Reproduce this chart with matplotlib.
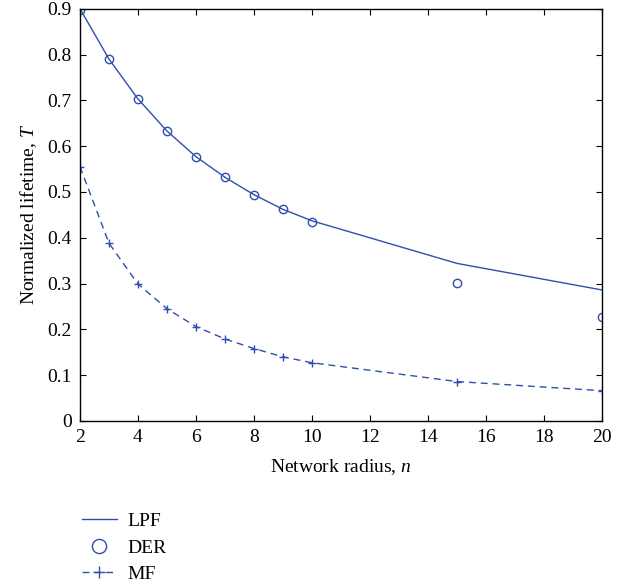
import numpy as np
import matplotlib.pyplot as plt

plt.rcParams['font.family'] = ['Liberation Serif', 'DejaVu Serif']
plt.rcParams['mathtext.fontset'] = 'custom'
plt.rcParams['mathtext.rm'] = 'Liberation Serif'
plt.rcParams['mathtext.it'] = 'Liberation Serif:italic'

radius = [2, 3, 4, 5, 6, 7, 8, 9, 10, 15, 20]
lpf = [0.900, 0.790, 0.703, 0.633, 0.577, 0.532, 0.494, 0.462, 0.437, 0.344, 0.286]
der = [0.898, 0.790, 0.703, 0.633, 0.577, 0.532, 0.494, 0.462, 0.435, 0.302, 0.226]
mf = [0.555, 0.388, 0.299, 0.245, 0.206, 0.179, 0.158, 0.140, 0.127, 0.086, 0.066]

col = '#2f4fae'

fig = plt.figure(figsize=(6.25, 5.83), dpi=100)
ax = fig.add_axes([0.128, 0.278, 0.835, 0.707])

ax.plot(radius, lpf, '-', color=col, lw=1.0, label='LPF')
ax.plot(radius, der, 'o', color=col, mfc='none', ms=6, mew=1.0, label='DER')
ax.plot(radius, mf, '--', color=col, lw=1.0, marker='+', ms=5.5, mew=1.0,
        dashes=(5, 3.5), label='MF')

ax.set_xlim(2, 20)
ax.set_ylim(0, 0.9)
ax.set_xticks(np.arange(2, 21, 2))
ax.set_yticks(np.arange(0, 0.91, 0.1))
ax.set_yticklabels(['0'] + [f'{v:.1f}' for v in np.arange(0.1, 0.91, 0.1)])
ax.tick_params(direction='in', top=True, right=True, labelsize=14, length=4, pad=6)
for s in ax.spines.values():
    s.set_linewidth(1.0)

ax.set_xlabel('Network radius, $n$', fontsize=14, labelpad=8)
ax.set_ylabel('Normalized lifetime, $T$', fontsize=14, labelpad=6)

h, l = ax.get_legend_handles_labels()
fig.legend(h, l, loc='upper left', bbox_to_anchor=(0.131, 0.121), frameon=False,
           fontsize=14, borderaxespad=0, borderpad=0, handlelength=1.8,
           handletextpad=0.55, labelspacing=0.46, markerscale=1.7)

fig.savefig('out.png')
plt.close()
